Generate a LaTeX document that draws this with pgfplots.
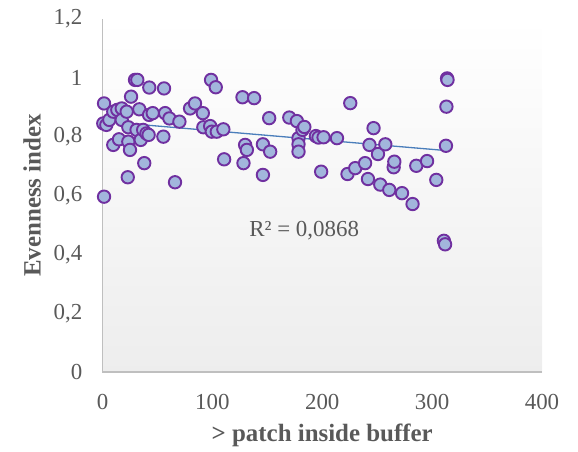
\documentclass[border=0pt]{standalone}
\usepackage{pgfplots}
\pgfplotsset{compat=1.18}
\usepackage{fontspec}
\setmainfont{Liberation Serif}
\definecolor{axisgray}{HTML}{BFBFBF}
\definecolor{txtgray}{HTML}{595959}
\definecolor{mfill}{HTML}{A2B6DC}
\definecolor{medge}{HTML}{7030A0}
\definecolor{trend}{HTML}{4A7EBB}
\begin{document}
\begin{tikzpicture}
\begin{axis}[
  name=ax,
  scale only axis,
  width=439.5bp, height=353bp,
  xmin=0, xmax=400, ymin=0, ymax=1.2,
  xtick={0,100,200,300,400},
  ytick={0,0.2,0.4,0.6,0.8,1,1.2},
  axis x line*=bottom, axis y line*=left,
  axis line style={draw=axisgray, line width=1.3bp, -},
  major tick length=0pt,
  tick style={draw=none},
  clip=false,
  axis background/.style={top color=white, bottom color=black!7},
  /pgf/number format/assume math mode=true,
  /pgf/number format/use comma,
  yticklabel style={/pgf/number format/fixed, /pgf/number format/precision=1, inner sep=0pt, anchor=east, xshift=-20bp},
  xticklabel style={inner sep=0pt, anchor=north, yshift=-22bp},
  ticklabel style={font=\fontsize{23}{27}\selectfont, text=txtgray},
  xlabel={> patch inside buffer},
  ylabel={Evenness index},
  label style={font=\fontsize{25}{29}\selectfont\bfseries, text=txtgray},
  xlabel style={at={(axis description cs:0.5,0)}, anchor=center, yshift=-63bp},
  ylabel style={at={(axis description cs:0,0.5)}, anchor=center, yshift=70.5bp},
]
\addplot[only marks, mark=*, mark size=6.2bp, mark options={draw=medge, fill=mfill, line width=1.9bp}] coordinates {
(0.7,0.845) (1.4,0.913) (1.4,0.596) (3.5,0.840) (6.2,0.857) (9.8,0.772) (9.8,0.885)
(13.5,0.891) (15,0.791) (17.5,0.896) (17.5,0.857) (22,0.885) (23,0.662) (23.5,0.832)
(23.5,0.783) (25,0.755) (26,0.936) (29.6,0.993) (31.7,0.993) (31,0.823) (33.5,0.893)
(34.8,0.789) (37,0.823) (38,0.71) (40,0.811) (42,0.806) (42.4,0.874) (42.6,0.967)
(45.7,0.88) (55.4,0.80) (56,0.964) (57,0.88) (60.9,0.862) (66,0.645) (70,0.851)
(79.7,0.896) (84.2,0.913) (91.3,0.88) (91.8,0.832) (98,0.836) (98.8,0.993) (99.5,0.817)
(103.1,0.968) (104,0.817) (110,0.825) (110.7,0.723) (127.4,0.934) (128.3,0.71)
(129.8,0.772) (131.4,0.755) (138,0.931) (146,0.774) (146,0.67) (151.7,0.863)
(152.6,0.749) (170,0.865) (176.9,0.853) (178.4,0.795) (178.4,0.774) (178.4,0.749)
(182,0.823) (183.7,0.833) (194.2,0.802) (196.6,0.797) (199,0.681) (201.2,0.798)
(213.4,0.795) (223,0.673) (225.5,0.914) (230,0.693) (239,0.71) (241.6,0.656)
(243,0.772) (246.7,0.829) (250.7,0.741) (252.8,0.637) (257.4,0.774) (261,0.619)
(265,0.696) (265.6,0.715) (272.6,0.608) (282.2,0.571) (285.6,0.701) (295.4,0.717)
(303.8,0.653) (310.7,0.446) (311.8,0.434) (312.6,0.769) (313,0.902) (313.6,0.998) (314,0.993)
};
\addplot[draw=trend, line width=1.3bp, no marks] coordinates {(0,0.852) (312,0.753)};
\node[font=\fontsize{23}{27}\selectfont, text=txtgray] at (axis cs:183.6,0.479) {R² = 0,0868};
\end{axis}
\useasboundingbox ([xshift=-102.5bp,yshift=-80bp]ax.south west) rectangle ([xshift=36bp,yshift=19bp]ax.north east);
\end{tikzpicture}
\end{document}
